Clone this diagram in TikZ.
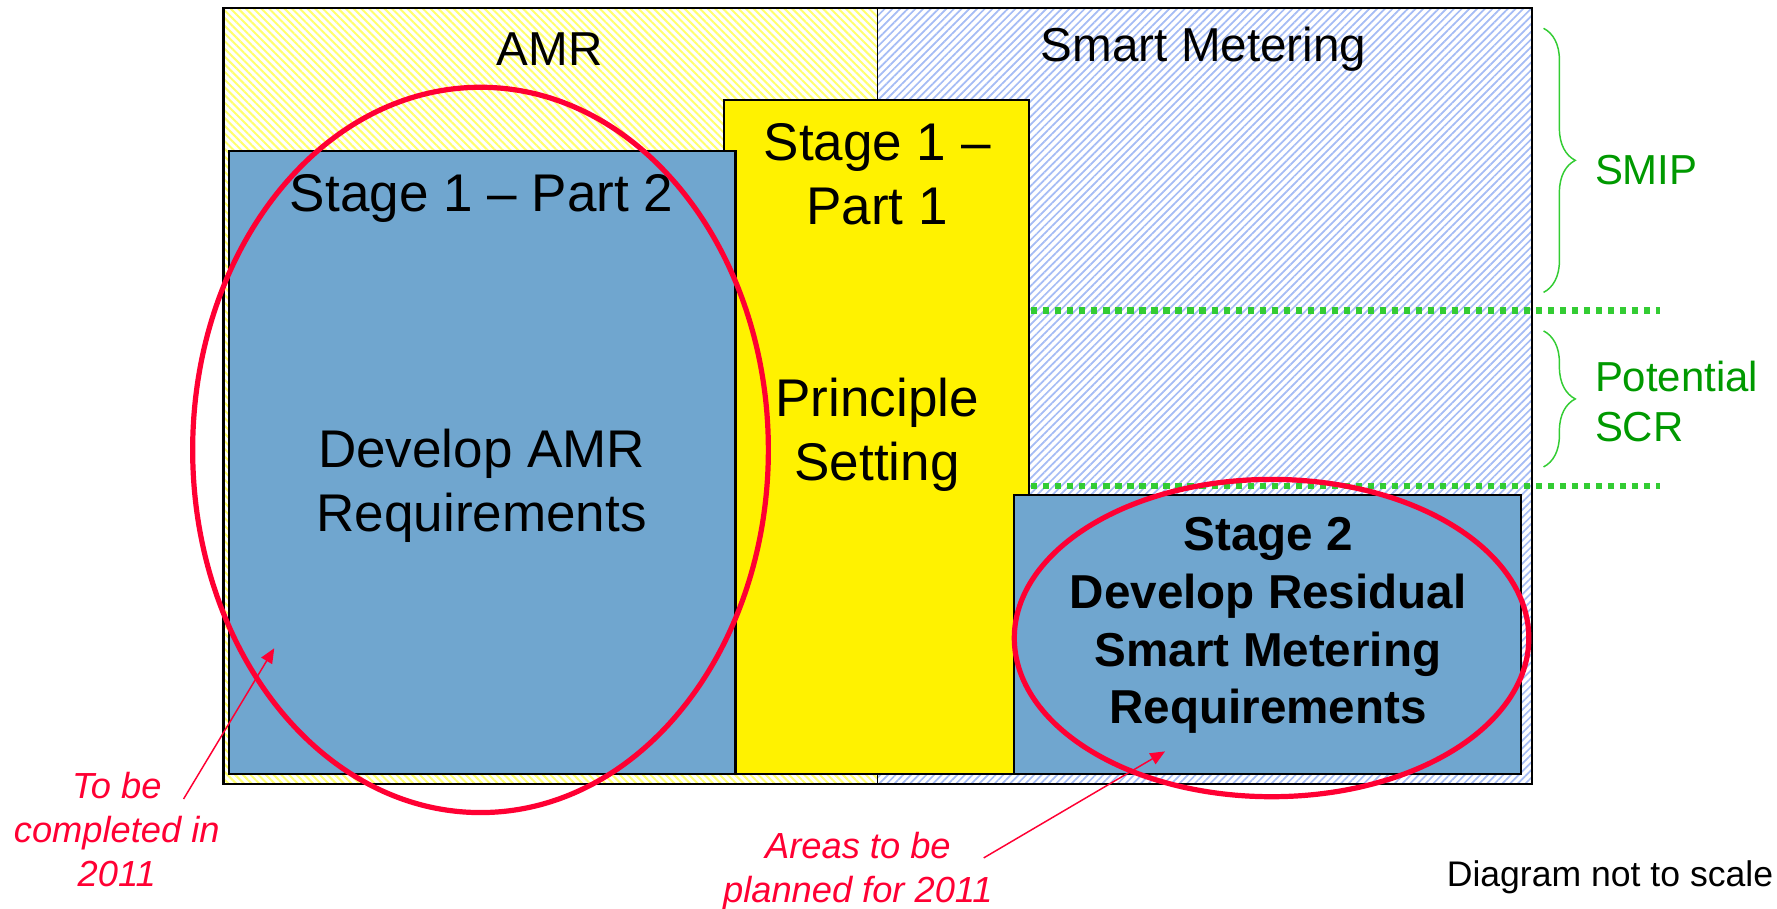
\documentclass[tikz,border=0pt]{standalone}
\usepackage{fontspec}
\setmainfont{Liberation Sans}
\usetikzlibrary{patterns.meta,decorations.pathreplacing,arrows.meta}
\definecolor{boxblue}{RGB}{112,166,207}
\definecolor{hatchyellow}{RGB}{255,255,110}
\definecolor{hatchblue}{RGB}{165,188,245}
\definecolor{ovalred}{RGB}{255,0,51}
\definecolor{dotgreen}{RGB}{51,204,51}
\definecolor{textgreen}{RGB}{0,153,0}
\begin{document}
\begin{tikzpicture}[x=0.5pt,y=-0.5pt,
  amrzone/.style={fill=white,postaction={pattern={Lines[angle=-45,distance=2.4pt,line width=0.9pt]},pattern color=hatchyellow}},
  smzone/.style={fill=white,postaction={pattern={Lines[angle=45,distance=2.4pt,line width=0.75pt]},pattern color=hatchblue}},
  bluebox/.style={draw=black,line width=0.9pt,fill=boxblue},
  yellowbox/.style={draw=black,line width=0.9pt,fill=yellow},
  bigtext/.style={font=\fontsize{23.4}{28.2}\selectfont,align=center,inner sep=0pt},
  headtext/.style={font=\fontsize{21}{25}\selectfont,inner sep=0pt},
  boldtext/.style={font=\fontsize{21}{25.5}\selectfont\bfseries,align=center,inner sep=0pt},
  greentext/.style={font=\fontsize{18.5}{22}\selectfont,text=textgreen,align=left,inner sep=0pt},
  redtext/.style={font=\fontsize{16}{19.5}\selectfont\itshape,text=ovalred,align=center,inner sep=0pt},
  greenbrace/.style={draw=dotgreen,line width=0.65pt,decorate,decoration={brace,amplitude=14pt}},
  greendots/.style={draw=dotgreen,line width=2.7pt,dash pattern=on 2.7pt off 2.6pt},
  redoval/.style={draw=ovalred,line width=2.3pt},
  redarrow/.style={draw=ovalred,line width=0.65pt,-{Triangle[length=6.5pt,width=5.5pt]}}
]
\useasboundingbox (0,0) rectangle (1568,802);

% zones
\path[amrzone] (197,7) rectangle (774,692);
\path[smzone] (774,7) rectangle (1352,692);
\draw[black,line width=0.5pt] (774,7) -- (774,692);
\draw[black,line width=1.1pt] (197,7) rectangle (1352,692);

% boxes
\draw[yellowbox] (639,88) rectangle (908,683);
\draw[bluebox] (202,133) rectangle (649,683);
\draw[bluebox] (895,437) rectangle (1342,683);

% zone labels
\node[headtext] (amr) at (485,43) {AMR};
\node[headtext] (sm) at (1062,43) {Smart Metering};

% box texts
\node[bigtext] (s1p2) at (425,175) {Stage 1 – Part 2};
\node[bigtext] (devamr) at (425,429) {Develop AMR\\Requirements};
\node[bigtext] (s1p1) at (774,154) {Stage 1 –\\Part 1};
\node[bigtext] (princ) at (774,384) {Principle\\Setting};
\node[boldtext] (s2) at (1119,552) {Stage 2\\Develop Residual\\Smart Metering\\Requirements};

% green dotted lines
\coordinate (d1a) at (910,274);
\coordinate (d1b) at (1465,274);
\coordinate (d2a) at (910,429);
\coordinate (d2b) at (1465,429);
\draw[greendots] (d1a) -- (d1b);
\draw[greendots] (d2a) -- (d2b);

% braces
\coordinate (b1a) at (1362,25);
\coordinate (b1b) at (1362,258);
\coordinate (b2a) at (1362,292);
\coordinate (b2b) at (1362,412);
\draw[greenbrace] (b1a) -- (b1b);
\draw[greenbrace] (b2a) -- (b2b);
\node[greentext,anchor=west] (smip) at (1407,150) {SMIP};
\node[greentext,anchor=west] (pscr) at (1407,354) {Potential\\SCR};

% red ovals
\draw[redoval] (424,397) ellipse [x radius=254,y radius=320];
\draw[redoval] (1122,563) ellipse [x radius=227,y radius=140];

% red annotations
\node[redtext] (tobe) at (103,732) {To be\\completed in\\2011};
\node[redtext] (areas) at (757,769) {Areas to be\\planned for 2011};
\coordinate (t1s) at (162,705);
\coordinate (t1e) at (242,572);
\coordinate (t2s) at (868,757);
\coordinate (t2e) at (1028,663);
\draw[redarrow] (t1s) -- (t1e);
\draw[redarrow] (t2s) -- (t2e);

% note
\node[font=\fontsize{15.7}{19}\selectfont,anchor=east,inner sep=0pt] (note) at (1565,774) {Diagram not to scale};
\end{tikzpicture}
\end{document}
